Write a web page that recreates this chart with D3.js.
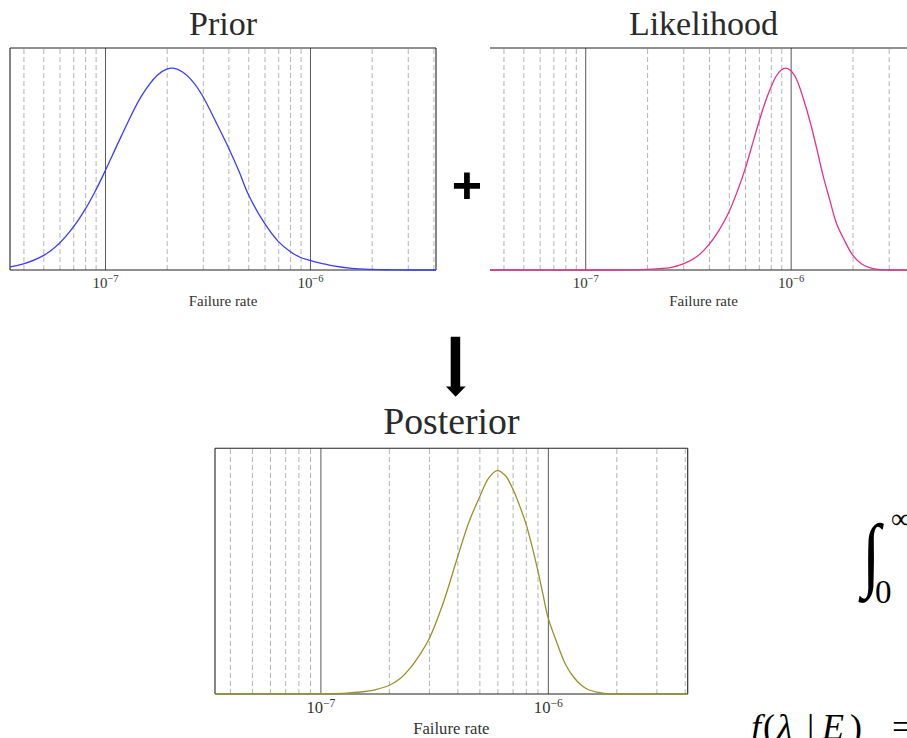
<!DOCTYPE html>
<html>
<head>
<meta charset="utf-8">
<script src="https://cdn.jsdelivr.net/npm/d3@7"></script>
<style>
  html, body { margin: 0; padding: 0; background: #fff; overflow: hidden; }
  svg { display: block; }
</style>
</head>
<body>
<svg id="fig" width="907" height="738"></svg>
<script>
// ---- Shared failure-rate axis -------------------------------------------
const rateDomain = [3.44e-8, 4.12e-6];
const decadeTicks = [1e-7, 1e-6];
const decadeExponents = ["\u22127", "\u22126"];
const axisTitle = "Failure rate";

// ---- Prior density (relative to its peak) --------------------------------
const priorRate = [3.44e-8, 4e-8, 5e-8, 6e-8, 7e-8, 8e-8, 9e-8, 1e-7, 1.2e-7, 1.5e-7,
  1.8e-7, 2e-7, 2.15e-7, 2.4e-7, 2.7e-7, 3e-7, 3.5e-7, 4e-7, 4.5e-7, 5e-7,
  6e-7, 7e-7, 8e-7, 9e-7, 1e-6, 1.15e-6, 1.3e-6, 1.6e-6, 2e-6, 2.5e-6,
  3e-6, 4.12e-6];
const priorDensity = [0.015, 0.030, 0.071, 0.133, 0.212, 0.300, 0.394, 0.489, 0.662, 0.859,
  0.965, 0.995, 1.0, 0.980, 0.930, 0.861, 0.727, 0.607, 0.490, 0.375,
  0.232, 0.142, 0.092, 0.062, 0.048, 0.032, 0.020, 0.008, 0.003, 0.001,
  0, 0];

// ---- Likelihood (relative to its peak) -----------------------------------
const likelihoodRate = [3.44e-8, 1.4e-7, 1.7e-7, 2e-7, 2.3e-7, 2.6e-7, 3e-7, 3.5e-7, 4e-7, 4.5e-7,
  5e-7, 5.5e-7, 6e-7, 6.5e-7, 7e-7, 7.5e-7, 8e-7, 8.5e-7, 9e-7, 9.46e-7,
  1e-6, 1.07e-6, 1.15e-6, 1.25e-6, 1.337e-6, 1.44e-6, 1.552e-6, 1.67e-6, 1.8e-6, 2e-6,
  2.2e-6, 2.4e-6, 2.61e-6, 3e-6, 4.12e-6];
const likelihoodDensity = [0, 0, 0.001, 0.003, 0.007, 0.012, 0.030, 0.067, 0.126, 0.200,
  0.286, 0.390, 0.500, 0.620, 0.732, 0.829, 0.903, 0.960, 0.991, 1.0,
  0.988, 0.943, 0.852, 0.726, 0.605, 0.465, 0.345, 0.232, 0.160, 0.075,
  0.032, 0.013, 0.004, 0, 0];

// ---- Posterior density (relative to its peak) ----------------------------
const posteriorRate = [3.44e-8, 1.1e-7, 1.3e-7, 1.5e-7, 1.75e-7, 2e-7, 2.25e-7, 2.5e-7, 2.75e-7, 3e-7,
  3.5e-7, 4e-7, 4.5e-7, 5e-7, 5.5e-7, 6e-7, 6.5e-7, 7e-7, 7.5e-7, 8e-7,
  8.5e-7, 9e-7, 9.5e-7, 1e-6, 1.1e-6, 1.2e-6, 1.3e-6, 1.4e-6, 1.5e-6, 1.65e-6,
  1.8e-6, 2e-6, 4.12e-6];
const posteriorDensity = [0, 0.002, 0.004, 0.009, 0.020, 0.038, 0.070, 0.120, 0.180, 0.245,
  0.420, 0.610, 0.770, 0.880, 0.968, 1.0, 0.978, 0.920, 0.845, 0.765,
  0.665, 0.560, 0.450, 0.345, 0.225, 0.130, 0.075, 0.040, 0.020, 0.008,
  0.002, 0, 0];

// ---- Panel layout ---------------------------------------------------------
const panels = [
  { id: "prior", title: "Prior", rate: priorRate, density: priorDensity, color: "#3c3cff",
    left: 10, top: 48, width: 426, height: 222, k: 1,
    frame: ["top", "right", "bottom", "left"] },
  { id: "likelihood", title: "Likelihood", rate: likelihoodRate, density: likelihoodDensity, color: "#e8308c",
    left: 490, top: 48, width: 427, height: 222, k: 1,
    frame: ["top", "bottom"] },
  { id: "posterior", title: "Posterior", rate: posteriorRate, density: posteriorDensity, color: "#99912a",
    left: 215, top: 448.3, width: 472.7, height: 245.7, k: 1.11,
    frame: ["top", "right", "bottom", "left"] }
];

const svg = d3.select("#fig");
svg.append("rect").attr("width", 907).attr("height", 738).attr("fill", "#fff");
const defs = svg.append("defs");

const serif = "'Liberation Serif', 'Times New Roman', serif";
const isDecade = v => Math.abs(Math.log10(v) - Math.round(Math.log10(v))) < 1e-9;

panels.forEach(p => {
  const g = svg.append("g").attr("transform", `translate(${p.left},${p.top})`);
  const x = d3.scaleLog().domain(rateDomain).range([0, p.width]);
  const y = d3.scaleLinear().domain([0, 1.1]).range([p.height, 0]);

  defs.append("clipPath").attr("id", "clip-" + p.id)
    .append("rect").attr("x", 0).attr("y", 0)
    .attr("width", p.width).attr("height", p.height + 1);

  // dashed minor grid (2..9 within each decade)
  const minor = x.ticks().filter(v => !isDecade(v));
  const minorAxis = g.append("g")
    .attr("transform", `translate(0,${p.height})`)
    .call(d3.axisBottom(x).tickValues(minor).tickSize(-p.height).tickFormat(""));
  minorAxis.select(".domain").remove();
  minorAxis.selectAll(".tick line")
    .attr("stroke", "#b4b4b4").attr("stroke-width", 1).attr("stroke-dasharray", "5,3");

  // solid decade lines with 10^n labels
  const majorAxis = g.append("g")
    .attr("transform", `translate(0,${p.height})`)
    .call(d3.axisBottom(x).tickValues(decadeTicks).tickSize(-p.height).tickFormat(""));
  majorAxis.select(".domain").remove();
  majorAxis.selectAll(".tick line").attr("stroke", "#5a5a5a").attr("stroke-width", 1);
  majorAxis.selectAll(".tick text")
    .attr("y", 17.5 * p.k).attr("dy", null)
    .attr("fill", "#333")
    .style("font-family", serif)
    .style("font-size", (15 * p.k) + "px")
    .attr("text-anchor", "middle")
    .each(function (d, i) {
      const t = d3.select(this);
      t.append("tspan").text("10");
      t.append("tspan").text(decadeExponents[i])
        .attr("dy", -5.5 * p.k).style("font-size", (10.5 * p.k) + "px");
    });

  // frame
  const sides = {
    top: [0, 0, p.width, 0],
    bottom: [0, p.height, p.width, p.height],
    left: [0, 0, 0, p.height],
    right: [p.width, 0, p.width, p.height]
  };
  p.frame.forEach(s => {
    const [x1, y1, x2, y2] = sides[s];
    g.append("line").attr("x1", x1).attr("y1", y1).attr("x2", x2).attr("y2", y2)
      .attr("stroke", "#222").attr("stroke-width", 1.1);
  });

  // density curve
  const line = d3.line()
    .x(d => x(d[0]))
    .y(d => y(d[1]))
    .curve(d3.curveCatmullRom.alpha(0.5));
  g.append("path")
    .datum(d3.zip(p.rate, p.density))
    .attr("clip-path", `url(#clip-${p.id})`)
    .attr("d", line)
    .attr("fill", "none")
    .attr("stroke", p.color)
    .attr("stroke-width", 1.3);

  // titles
  g.append("text")
    .attr("x", p.width / 2).attr("y", -13 * p.k)
    .attr("text-anchor", "middle")
    .style("font-family", serif).style("font-size", (34 * p.k) + "px")
    .attr("fill", "#2a2a2a")
    .text(p.title);
  g.append("text")
    .attr("x", p.width / 2).attr("y", p.height + 36 * p.k)
    .attr("text-anchor", "middle")
    .style("font-family", serif).style("font-size", (15 * p.k) + "px")
    .attr("fill", "#333")
    .text(axisTitle);
});

// "+" between the two upper panels
svg.append("text")
  .attr("x", 467).attr("y", 203)
  .attr("text-anchor", "middle")
  .style("font-family", "'Liberation Sans', Arial, sans-serif")
  .style("font-weight", "bold").style("font-size", "52px")
  .attr("fill", "#000")
  .text("+");

// downward arrow leading to the posterior
svg.append("path")
  .attr("d", "M450.7,336.7 H460.2 V386.5 H465.7 L455.6,396.8 L446,386.5 H450.7 Z")
  .attr("fill", "#000");

// equation fragments on the right
svg.append("text")
  .attr("transform", "translate(862,581) scale(0.82,1)")
  .style("font-family", serif).style("font-size", "82px").attr("fill", "#000")
  .text("\u222B");
svg.append("text").attr("x", 875).attr("y", 603)
  .style("font-family", serif).style("font-size", "33px").attr("fill", "#000")
  .text("0");
svg.append("text").attr("x", 891).attr("y", 528)
  .style("font-family", serif).style("font-size", "28px").attr("fill", "#000")
  .text("\u221E");

const eq = svg.append("text").attr("y", 739)
  .style("font-family", serif).style("font-size", "36px").attr("fill", "#000");
eq.append("tspan").attr("x", 751).style("font-style", "italic").text("f");
eq.append("tspan").attr("x", 763).text("(");
eq.append("tspan").attr("x", 777).style("font-style", "italic").text("\u03BB");
eq.append("tspan").attr("x", 807).text("|");
eq.append("tspan").attr("x", 822).style("font-style", "italic").text("E");
eq.append("tspan").attr("x", 850).text(")");
eq.append("tspan").attr("x", 892).text("=");
</script>
</body>
</html>
